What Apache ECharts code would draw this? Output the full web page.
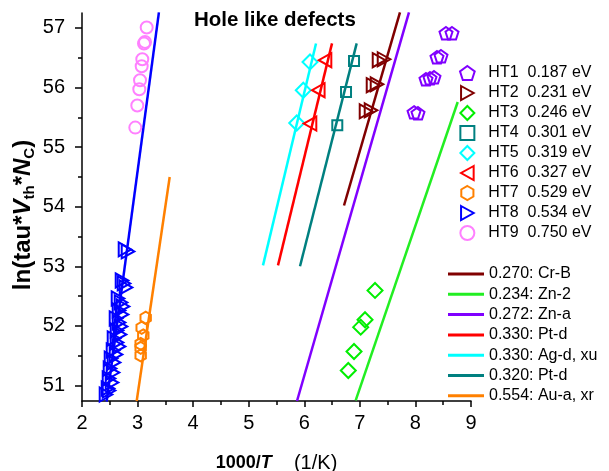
<!DOCTYPE html>
<html><head><meta charset="utf-8">
<script src="https://cdn.jsdelivr.net/npm/echarts@6/dist/echarts.min.js"></script>
<style>html,body{margin:0;padding:0;background:#fff}#c{width:609px;height:471px}</style>
</head><body><div id="c"></div>
<script>
// ---- data ----
const xTickValues = [2, 3, 4, 5, 6, 7, 8, 9];
const yTickValues = [51, 52, 53, 54, 55, 56, 57];
const yMinorValues = [51.5, 52.5, 53.5, 54.5, 55.5, 56.5];

const trapNames = ['HT1', 'HT2', 'HT3', 'HT4', 'HT5', 'HT6', 'HT7', 'HT8', 'HT9'];
const trapEnergies = ['0.187 eV', '0.231 eV', '0.246 eV', '0.301 eV', '0.319 eV', '0.327 eV', '0.529 eV', '0.534 eV', '0.750 eV'];

const ht1 = [[7.975, 55.584], [8.046, 55.568], [8.190, 56.139], [8.262, 56.155], [8.334, 56.172], [8.388, 56.508], [8.460, 56.525], [8.550, 56.911], [8.658, 56.911]];
const ht2 = [[7.111, 55.601], [7.201, 55.618], [7.237, 56.038], [7.309, 56.054], [7.345, 56.458], [7.435, 56.474]];
const ht3 = [[7.273, 52.595], [7.093, 52.103], [7.015, 51.979], [6.895, 51.571], [6.792, 51.252]];
const ht4 = [[6.895, 56.446], [6.751, 55.925], [6.594, 55.366]];
const ht5 = [[6.103, 56.429], [5.982, 55.954], [5.864, 55.405]];
const ht6 = [[6.373, 56.458], [6.252, 55.954], [6.103, 55.395]];
const ht7 = [[3.146, 52.137], [3.074, 51.969], [3.103, 51.840], [3.056, 51.700], [3.056, 51.633], [3.056, 51.504]];
const ht8 = [[2.774, 53.284], [2.828, 53.250], [2.720, 52.763], [2.756, 52.713], [2.792, 52.646], [2.648, 52.461], [2.702, 52.394], [2.738, 52.327], [2.666, 52.259], [2.720, 52.192], [2.612, 52.125], [2.666, 52.058], [2.702, 51.991], [2.630, 51.924], [2.684, 51.856], [2.576, 51.789], [2.630, 51.722], [2.666, 51.655], [2.558, 51.588], [2.612, 51.521], [2.522, 51.453], [2.576, 51.386], [2.504, 51.285], [2.558, 51.218], [2.486, 51.118], [2.540, 51.050], [2.468, 50.950], [2.432, 50.849], [2.486, 50.916]];
const ht9 = [[3.164, 57.007], [3.134, 56.765], [3.116, 56.738], [3.085, 56.474], [3.074, 56.357], [3.044, 56.122], [3.031, 55.971], [2.995, 55.697], [2.959, 55.327]];

const refNames = ['0.270: Cr-B', '0.234: Zn-2', '0.272: Zn-a', '0.330: Pt-d', '0.330: Ag-d, xu', '0.320: Pt-d', '0.554: Au-a, xr'];
const refCrB = [[6.715, 54.02], [7.722, 57.26]];
const refZn2 = [[6.925, 50.75], [8.761, 55.757]];
const refZna = [[5.869, 50.74], [7.884, 57.26]];
const refPtd330 = [[5.527, 53.015], [6.499, 56.74]];
const refAgd = [[5.257, 53.015], [6.211, 56.738]];
const refPtd320 = [[5.923, 53.0], [6.943, 56.74]];
const refAua = [[2.984, 50.74], [3.578, 54.498]];
const fitHT8 = [[2.443, 50.73], [3.384, 57.26]];

// ---- styling ----
const FONT = 'Liberation Sans, Arial, sans-serif';
const pentagon = 'path://M0,-1 L0.951,-0.309 L0.588,0.809 L-0.588,0.809 L-0.951,-0.309 Z';
const hexagon = 'path://M0,-1 L0.866,-0.5 L0.866,0.5 L0,1 L-0.866,0.5 L-0.866,-0.5 Z';
const triRight = 'path://M0,0 L0.9,0.5 L0,1 Z';
const triLeft = 'path://M0.9,0 L0,0.5 L0.9,1 Z';
const diamond = 'path://M0.5,0 L1,0.5 L0.5,1 L0,0.5 Z';
const square = 'path://M0,0 L1,0 L1,1 L0,1 Z';
const circle = 'path://M-1,0 A1,1 0 1,0 1,0 A1,1 0 1,0 -1,0 Z';

const scatterDefs = [
  {data: ht1, color: '#8000ff', symbol: pentagon, size: 13},
  {data: ht2, color: '#800000', symbol: triRight, size: 14},
  {data: ht3, color: '#00ee00', symbol: diamond, size: 15},
  {data: ht4, color: '#008080', symbol: square, size: 10},
  {data: ht5, color: '#00ffff', symbol: diamond, size: 15},
  {data: ht6, color: '#ff0000', symbol: triLeft, size: 14},
  {data: ht7, color: '#ff8000', symbol: hexagon, size: 12},
  {data: ht8, color: '#0000ff', symbol: triRight, size: 14},
  {data: ht9, color: '#ff80ff', symbol: circle, size: 12}
];
const lineDefs = [
  {data: refCrB, color: '#800000'},
  {data: refZn2, color: '#22ee22'},
  {data: refZna, color: '#8000ff'},
  {data: refPtd330, color: '#ff0000'},
  {data: refAgd, color: '#00ffff'},
  {data: refPtd320, color: '#008080'},
  {data: refAua, color: '#ff8000'}
];

const series = [];
lineDefs.forEach((d, i) => {
  series.push({
    name: refNames[i], type: 'line', data: d.data, symbol: 'none', showSymbol: false,
    lineStyle: {color: d.color, width: 2.5}, itemStyle: {color: d.color}, z: 2, animation: false
  });
});
series.push({
  name: 'fit', type: 'line', data: fitHT8, symbol: 'none', showSymbol: false,
  lineStyle: {color: '#0000ff', width: 2.5}, itemStyle: {color: '#0000ff'}, z: 2, animation: false
});
scatterDefs.forEach((d, i) => {
  series.push({
    name: trapNames[i], type: 'scatter', data: d.data, symbol: d.symbol, symbolSize: d.size,
    symbolKeepAspect: true,
    itemStyle: {color: 'rgba(0,0,0,0)', borderColor: d.color, borderWidth: 2, opacity: 1},
    z: 3, animation: false
  });
});

const chart = echarts.init(document.getElementById('c'), null, {renderer: 'canvas'});
chart.setOption({
  animation: false,
  backgroundColor: '#fff',
  textStyle: {fontFamily: FONT},
  title: {
    text: 'Hole like defects', left: 194, top: 10, padding: 0,
    textStyle: {fontFamily: FONT, fontSize: 20.5, fontWeight: 'bold', color: '#000'}
  },
  grid: {left: 82, right: 138, top: 13, bottom: 70, containLabel: false, outerBoundsMode: 'none'},
  legend: [
    {
      data: trapNames, orient: 'vertical', left: 459, top: 65, padding: 0,
      itemWidth: 26, itemHeight: 14, itemGap: 4,
      symbolKeepAspect: true,
      formatter: name => name + '  ' + trapEnergies[trapNames.indexOf(name)],
      textStyle: {fontFamily: FONT, fontSize: 16, color: '#000', padding: [0, 0, 0, 3]}
    },
    {
      data: refNames, orient: 'vertical', left: 448, top: 266, padding: 0,
      icon: 'rect', itemWidth: 36, itemHeight: 3, itemGap: 4.3,
      textStyle: {fontFamily: FONT, fontSize: 16, color: '#000', lineHeight: 16}
    }
  ],
  xAxis: {
    type: 'value', min: 2, max: 9, interval: 1,
    name: '{b|1000/}{bi|T}{n|    (1/K)}', nameLocation: 'middle', nameGap: 52,
    nameTextStyle: {
      fontFamily: FONT, fontSize: 20, color: '#000',
      rich: {
        b: {fontFamily: FONT, fontSize: 18, fontWeight: 'bold', color: '#000'},
        bi: {fontFamily: FONT, fontSize: 18, fontWeight: 'bold', fontStyle: 'italic', color: '#000'},
        n: {fontFamily: FONT, fontSize: 20, color: '#000'}
      }
    },
    axisLine: {lineStyle: {color: '#000', width: 1.5}},
    axisTick: {length: 6, lineStyle: {color: '#000', width: 1.5}},
    minorTick: {show: true, splitNumber: 2, length: 4, lineStyle: {color: '#000', width: 1.5}},
    axisLabel: {fontFamily: FONT, fontSize: 20, color: '#000', margin: 12},
    splitLine: {show: false}
  },
  yAxis: [
    {
      type: 'value', min: 50.74, max: 57.25,
      name: '{b|ln(tau*}{bi|V}{s|th}{b|*}{bi|N}{s|C}{b|)}', nameLocation: 'middle', nameGap: 45, nameRotate: 90,
      nameMoveOverlap: false,
      nameTextStyle: {
        fontFamily: FONT, fontSize: 24, color: '#000', padding: [0, 16, 0, 0],
        rich: {
          b: {fontFamily: FONT, fontSize: 24, fontWeight: 'bold', color: '#000', lineHeight: 28},
          bi: {fontFamily: FONT, fontSize: 24, fontWeight: 'bold', fontStyle: 'italic', color: '#000', lineHeight: 28},
          s: {fontFamily: FONT, fontSize: 15, fontWeight: 'bold', color: '#000', lineHeight: 13, verticalAlign: 'bottom'}
        }
      },
      axisLine: {show: true, lineStyle: {color: '#000', width: 1.5}},
      axisTick: {show: true, length: 7, customValues: yTickValues, lineStyle: {color: '#000', width: 1.5}},
      axisLabel: {fontFamily: FONT, fontSize: 20, color: '#000', margin: 17, customValues: yTickValues},
      splitLine: {show: false}
    },
    {
      type: 'value', min: 50.74, max: 57.25, position: 'left',
      axisLine: {show: false},
      axisTick: {show: true, length: 4, customValues: yMinorValues, lineStyle: {color: '#000', width: 1.5}},
      axisLabel: {show: false},
      splitLine: {show: false}
    }
  ],
  series: series
});
</script>
</body></html>
